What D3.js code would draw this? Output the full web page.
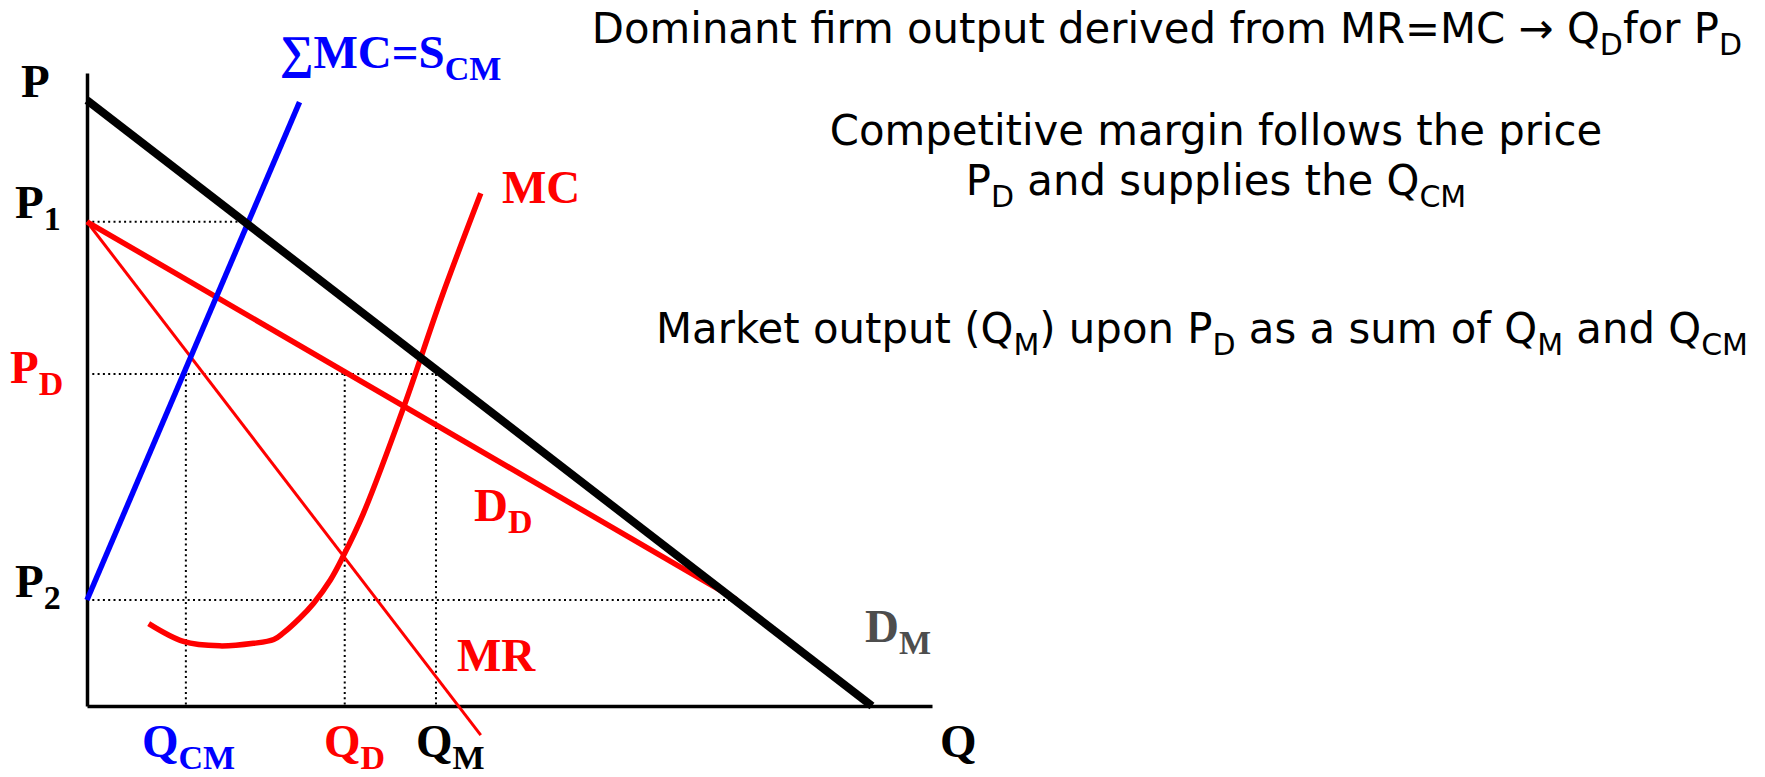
<!DOCTYPE html>
<html>
<head>
<meta charset="utf-8">
<script src="https://cdn.jsdelivr.net/npm/d3@7"></script>
<style>
  body { margin: 0; background: #fff; }
  .lbl { font-family: "Liberation Serif", "Times New Roman", serif; font-weight: bold; font-size: 47px; }
  .note { font-family: "DejaVu Sans", Verdana, sans-serif; font-size: 41.8px; fill: #000; }
</style>
</head>
<body>
<div id="chart-area"></div>
<script>
// DATA (Q and P in chart units)
var demandM = [[0, 9.57], [9.29, 0]];
var sumMC = [[0, 1.675], [2.515, 9.54]];
var demandD = [[0, 7.65], [7.69, 1.675]];
var marginalRevenue = [[0, 7.65], [4.66, -0.46]];
var marginalCost = [
    [0.73, 1.30], [1.14, 1.02], [1.57, 0.95], [1.97, 0.99], [2.21, 1.05],
    [2.32, 1.15], [2.52, 1.39], [2.68, 1.62], [2.88, 1.99], [3.03, 2.36],
    [3.27, 3.04], [3.75, 4.73], [4.20, 6.47], [4.66, 8.10]
];
// price guides: level and where the dotted line stops
var priceGuides = [[7.65, 1.9], [5.245, 4.13], [1.675, 7.69]];
// quantity guides: QCM, QD, QM, dotted up to PD
var quantityGuides = [[1.17, 5.245], [3.05, 5.245], [4.13, 5.245]];

var width = 1765;
var height = 777;

var svg = d3.select("#chart-area")
    .append("svg")
    .attr("width", width)
    .attr("height", height);

// SCALES
var x = d3.scaleLinear().domain([0, 10]).range([87, 932]);
var y = d3.scaleLinear().domain([0, 10]).range([706, 73]);

var line = d3.line().x((d) => x(d[0])).y((d) => y(d[1]));

//---DOTTED GUIDES
svg.selectAll(".hguide").data(priceGuides).enter()
    .append("line")
    .attr("x1", x(0)).attr("x2", (d) => x(d[1]))
    .attr("y1", (d) => y(d[0])).attr("y2", (d) => y(d[0]))
    .attr("stroke", "#000").attr("stroke-width", 2)
    .attr("stroke-dasharray", "2,3.3");

svg.selectAll(".vguide").data(quantityGuides).enter()
    .append("line")
    .attr("x1", (d) => x(d[0])).attr("x2", (d) => x(d[0]))
    .attr("y1", (d) => y(d[1])).attr("y2", y(0))
    .attr("stroke", "#000").attr("stroke-width", 2)
    .attr("stroke-dasharray", "2,3.3");

//---AXES
var xAxis = d3.axisBottom(x).tickValues([]).tickSizeOuter(0);
var yAxis = d3.axisLeft(y).tickValues([]).tickSizeOuter(0);

svg.append("g").attr("transform", "translate(0," + y(0) + ")").call(xAxis)
    .select(".domain").attr("stroke", "#000").attr("stroke-width", 3.5);
svg.append("g").attr("transform", "translate(" + x(0) + ",0)").call(yAxis)
    .select(".domain").attr("stroke", "#000").attr("stroke-width", 3.5);

//---CURVES
svg.append("path").datum(marginalRevenue).attr("d", line)
    .attr("fill", "none").attr("stroke", "#ff0000").attr("stroke-width", 3);

svg.append("path").datum(demandD).attr("d", line)
    .attr("fill", "none").attr("stroke", "#ff0000").attr("stroke-width", 5.5);

var smooth = d3.line().x((d) => x(d[0])).y((d) => y(d[1]))
    .curve(d3.curveCatmullRom.alpha(0.5));
svg.append("path").datum(marginalCost).attr("d", smooth)
    .attr("fill", "none").attr("stroke", "#ff0000").attr("stroke-width", 5.5);

svg.append("path").datum(sumMC).attr("d", line)
    .attr("fill", "none").attr("stroke", "#0000ff").attr("stroke-width", 5.5);

svg.append("path").datum(demandM).attr("d", line)
    .attr("fill", "none").attr("stroke", "#000").attr("stroke-width", 8);

//---LABELS
function label(txt, sub, px, py, color) {
    var t = svg.append("text").attr("class", "lbl")
        .attr("x", px).attr("y", py).style("fill", color);
    t.append("tspan").text(txt);
    if (sub) {
        t.append("tspan").attr("dy", 12).style("font-size", "34px").text(sub);
    }
}

label("P", "", 21, 97, "#000");
label("P", "1", 15, 218, "#000");
label("P", "D", 10, 383, "#ff0000");
label("P", "2", 15, 597, "#000");
label("\u2211MC=S", "CM", 280, 68, "#0000ff");
label("MC", "", 502, 203, "#ff0000");
label("D", "D", 474, 521, "#ff0000");
label("MR", "", 457, 671, "#ff0000");
label("D", "M", 865, 642, "#4d4d4d");
label("Q", "", 940, 757, "#000");
label("Q", "CM", 142, 757, "#0000ff");
label("Q", "D", 324, 757, "#ff0000");
label("Q", "M", 416, 757, "#000");

//---NOTES
function note(parts, px, py, anchor) {
    var t = svg.append("text").attr("class", "note")
        .attr("x", px).attr("y", py).attr("text-anchor", anchor);
    var shifted = false;
    parts.forEach((p) => {
        var s = t.append("tspan").text(p[0]);
        if (p[1] && !shifted) { s.attr("dy", 12).style("font-size", "30px"); shifted = true; }
        else if (!p[1] && shifted) { s.attr("dy", -12); shifted = false; }
        else if (p[1]) { s.style("font-size", "30px"); }
    });
}

note([["Dominant firm output derived from MR=MC \u2192 Q"], ["D", 1], ["for P"], ["D", 1]], 1742, 43, "end");
note([["Competitive margin follows the price"]], 1216, 145, "middle");
note([["P"], ["D", 1], [" and supplies the Q"], ["CM", 1]], 1216, 195, "middle");
note([["Market output (Q"], ["M", 1], [") upon P"], ["D", 1], [" as a sum of Q"], ["M", 1], [" and Q"], ["CM", 1]], 1748, 343, "end");
</script>
</body>
</html>
